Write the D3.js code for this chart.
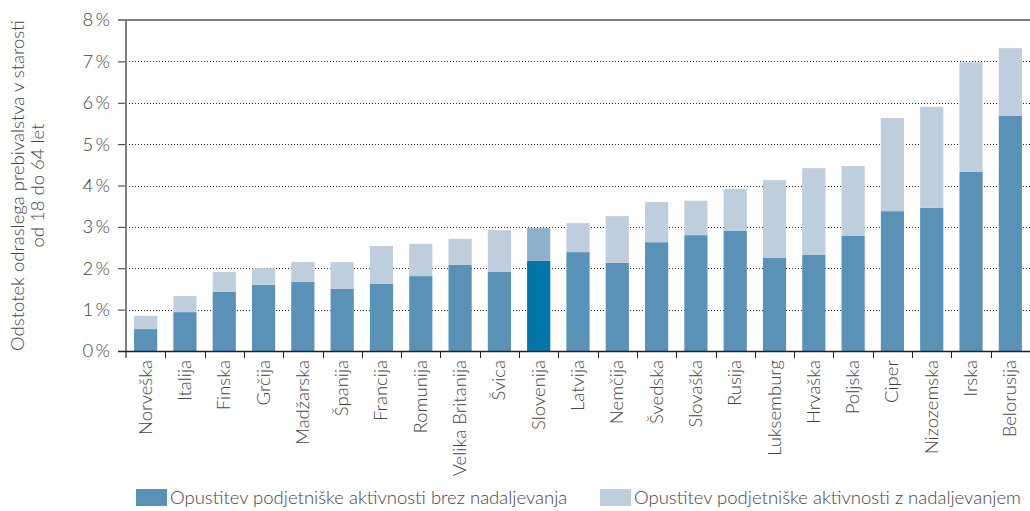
<!DOCTYPE html>
<html>
<head>
<meta charset="utf-8">
<script src="https://cdn.jsdelivr.net/npm/d3@7"></script>
<style>
  body { margin: 0; background: #fff; }
  text { font-family: "Source Sans Pro", Lato, sans-serif; font-weight: 300; fill: #444; }
</style>
</head>
<body>
<div id="chart"></div>
<script>
// countries, sorted by total share
var countries = ["Norveška", "Italija", "Finska", "Grčija", "Madžarska", "Španija", "Francija",
  "Romunija", "Velika Britanija", "Švica", "Slovenija", "Latvija", "Nemčija", "Švedska",
  "Slovaška", "Rusija", "Luksemburg", "Hrvaška", "Poljska", "Ciper", "Nizozemska", "Irska", "Belorusija"];
// % without continuation
var brezNadaljevanja = [0.53, 0.94, 1.43, 1.60, 1.67, 1.50, 1.62, 1.81, 2.08, 1.91, 2.18, 2.39,
  2.13, 2.63, 2.80, 2.90, 2.25, 2.32, 2.78, 3.38, 3.46, 4.33, 5.68];
// % with continuation (stacked on top)
var zNadaljevanjem = [0.32, 0.39, 0.48, 0.40, 0.48, 0.65, 0.92, 0.78, 0.63, 1.01, 0.79, 0.70,
  1.13, 0.97, 0.83, 1.02, 1.88, 2.10, 1.69, 2.25, 2.44, 2.65, 1.64];
var yTicks = [0, 1, 2, 3, 4, 5, 6, 7, 8];
var seriesNames = ["Opustitev podjetniške aktivnosti brez nadaljevanja",
  "Opustitev podjetniške aktivnosti z nadaljevanjem"];
var highlight = "Slovenija";

var width = 1030, height = 511;
var margin = { top: 20, right: 0, bottom: 160, left: 126 };
var fontSize = "18.5px";

var colors = ["#5a92b7", "#bfcedd"];
var colorsHi = ["#0077a8", "#8fb0ca"];

var rows = countries.map(function (c, i) {
  return { country: c, brez: brezNadaljevanja[i], z: zNadaljevanjem[i] };
});
var stacked = d3.stack().keys(["brez", "z"])(rows);

var svg = d3.select("#chart").append("svg")
  .attr("width", width)
  .attr("height", height);

var x = d3.scaleBand()
  .domain(countries)
  .range([margin.left, width - margin.right])
  .paddingInner(0.41)
  .paddingOuter(0.205);

var y = d3.scaleLinear()
  .domain([0, 8])
  .range([height - margin.bottom, margin.top]);

// grid lines (dotted)
svg.append("g")
  .selectAll("line")
  .data(yTicks.filter(function (d) { return d > 0 && d < 8; }))
  .enter().append("line")
  .attr("x1", margin.left)
  .attr("x2", width)
  .attr("y1", function (d) { return Math.round(y(d)) + 0.5; })
  .attr("y2", function (d) { return Math.round(y(d)) + 0.5; })
  .attr("stroke", "#222")
  .attr("stroke-dasharray", "1,2");

// bars
svg.append("g")
  .selectAll("g")
  .data(stacked)
  .enter().append("g")
  .each(function (s, si) {
    d3.select(this).selectAll("rect")
      .data(s)
      .enter().append("rect")
      .attr("x", function (d) { return x(d.data.country); })
      .attr("width", x.bandwidth())
      .attr("y", function (d) { return y(d[1]); })
      .attr("height", function (d) { return y(d[0]) - y(d[1]); })
      .attr("fill", function (d) { return d.data.country === highlight ? colorsHi[si] : colors[si]; });
  });

// y axis
var yAxis = svg.append("g")
  .attr("transform", "translate(" + margin.left + ",0)")
  .call(d3.axisLeft(y).tickValues(yTicks).tickSize(8).tickPadding(8)
    .tickFormat(function (d) { return d + "\u2009%"; }));
yAxis.select(".domain").remove();
yAxis.selectAll(".tick line").attr("stroke", "#333");
yAxis.selectAll("text").style("font-size", fontSize).attr("fill", "#444");

// top border and left axis line (grey)
svg.append("line")
  .attr("x1", margin.left - 8).attr("x2", width)
  .attr("y1", y(8)).attr("y2", y(8))
  .attr("stroke", "#808080").attr("stroke-width", 2);
svg.append("line")
  .attr("x1", margin.left).attr("x2", margin.left)
  .attr("y1", y(8)).attr("y2", y(0) + 7)
  .attr("stroke", "#808080").attr("stroke-width", 2);

// x axis: baseline + ticks between categories
svg.append("line")
  .attr("x1", margin.left - 8).attr("x2", width)
  .attr("y1", y(0) + 0.5).attr("y2", y(0) + 0.5)
  .attr("stroke", "#222").attr("stroke-width", 1.5);
var gap = (x.step() - x.bandwidth()) / 2;
svg.append("g")
  .selectAll("line")
  .data(countries.slice(1))
  .enter().append("line")
  .attr("x1", function (d) { return Math.round(x(d) - gap) + 0.5; })
  .attr("x2", function (d) { return Math.round(x(d) - gap) + 0.5; })
  .attr("y1", y(0))
  .attr("y2", y(0) + 7)
  .attr("stroke", "#222");

// x labels
svg.append("g")
  .selectAll("text")
  .data(countries)
  .enter().append("text")
  .attr("transform", function (d) {
    return "translate(" + (x(d) + x.bandwidth() / 2 + 6) + "," + (y(0) + 9) + ") rotate(-90)";
  })
  .attr("text-anchor", "end")
  .style("font-size", fontSize)
  .text(function (d) { return d; });

// y title
var yTitle = svg.append("text")
  .attr("transform", "translate(24," + ((y(0) + y(8)) / 2) + ") rotate(-90)")
  .attr("text-anchor", "middle")
  .style("font-size", fontSize);
yTitle.append("tspan").attr("x", 0).attr("dy", 0).text("Odstotek odraslega prebivalstva v starosti");
yTitle.append("tspan").attr("x", 0).attr("dy", 20).text("od 18 do 64 let");

// legend
var legendX = [136, 600];
var legend = svg.append("g")
  .selectAll("g")
  .data(seriesNames)
  .enter().append("g")
  .attr("transform", function (d, i) { return "translate(" + legendX[i] + ",489)"; });
legend.append("rect")
  .attr("width", 31).attr("height", 17)
  .attr("fill", function (d, i) { return colors[i]; });
legend.append("text")
  .attr("x", 34).attr("y", 15)
  .style("font-size", fontSize)
  .text(function (d) { return d; });
</script>
</body>
</html>
